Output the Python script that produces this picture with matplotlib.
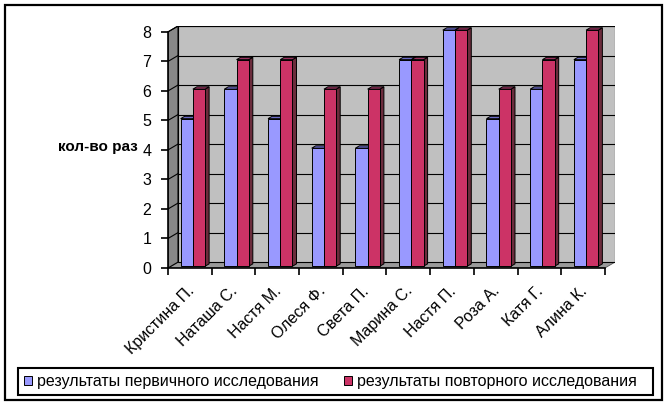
import matplotlib
matplotlib.use('Agg')
import matplotlib.pyplot as plt
from matplotlib.patches import Polygon, Rectangle

# data
names = ['Кристина П.', 'Наташа С.', 'Настя М.', 'Олеся Ф.', 'Света П.',
         'Марина С.', 'Настя П.', 'Роза А.', 'Катя Г.', 'Алина К.']
first = [5, 6, 5, 4, 4, 7, 8, 5, 6, 7]
second = [6, 7, 7, 6, 6, 7, 8, 6, 7, 8]
series_labels = ['результаты первичного исследования',
                 'результаты повторного исследования']
y_ticks = [0, 1, 2, 3, 4, 5, 6, 7, 8]
y_title = 'кол-во раз'

plt.rcParams['font.family'] = ['Liberation Sans', 'DejaVu Sans']

fig = plt.figure(figsize=(6.67, 4.05), dpi=100)
ax = fig.add_axes([168 / 667, 137 / 405, 447 / 667, 242 / 405])

n = len(names)
top = max(y_ticks)
dx, dy = 0.23, 0.2      # depth of the 3d box in data units
ax.set_xlim(0, n + dx)
ax.set_ylim(0, top + dy)
ax.set_facecolor('none')

# walls and floor
ax.add_patch(Polygon([(0, 0), (n, 0), (n + dx, dy), (dx, dy)], closed=True,
                     facecolor='#9a9a9a', edgecolor='#555555', lw=0.6, zorder=1))
ax.add_patch(Polygon([(0, 0), (dx, dy), (dx, top + dy), (0, top)], closed=True,
                     facecolor='#888888', edgecolor='black', lw=0.8, zorder=1))
ax.add_patch(Rectangle((dx, dy), n, top, facecolor='#c0c0c0',
                       edgecolor='black', lw=0.8, zorder=1))
for k in y_ticks[1:]:
    ax.plot([dx, n + dx], [k + dy, k + dy], color='black', lw=0.8, zorder=2)
    ax.plot([0, dx], [k, k + dy], color='black', lw=0.8, zorder=2)

# 3d bars
w = 0.28      # bar width
f = 0.3       # depth position of bar front
bd = 0.4      # bar depth as part of box depth
styles = [('#9999ff', '#6a6ac4', '#5858a8'),
          ('#cc3366', '#99335f', '#6b2c3c')]
for s, vals in enumerate([first, second]):
    face, topc, sidec = styles[s]
    xs = [i + 0.5 - w + s * w + f * dx for i in range(n)]
    z = 3 + s
    ax.bar(xs, vals, width=w, bottom=f * dy, align='edge', color=face,
           edgecolor='black', linewidth=0.7, zorder=z + 0.1, label=series_labels[s])
    for x0, v in zip(xs, vals):
        y1 = v + f * dy
        ox, oy = bd * dx, bd * dy
        ax.add_patch(Polygon([(x0 + w, f * dy), (x0 + w + ox, f * dy + oy),
                              (x0 + w + ox, y1 + oy), (x0 + w, y1)], closed=True,
                             facecolor=sidec, edgecolor='black', lw=0.7, zorder=z))
        ax.add_patch(Polygon([(x0, y1), (x0 + w, y1), (x0 + w + ox, y1 + oy),
                              (x0 + ox, y1 + oy)], closed=True,
                             facecolor=topc, edgecolor='black', lw=0.7, zorder=z + 0.2))

# axes
for side in ['top', 'right']:
    ax.spines[side].set_visible(False)
ax.spines['left'].set_bounds(0, top)
ax.spines['bottom'].set_bounds(0, n)
ax.spines['left'].set_linewidth(1.2)
ax.spines['bottom'].set_linewidth(1.2)
ax.spines['left'].set_zorder(6)
ax.spines['bottom'].set_zorder(6)

ax.set_yticks(y_ticks)
ax.tick_params(axis='y', direction='out', length=5, width=1.2, pad=7, labelsize=11.5)
ax.set_xticks(range(n + 1))
ax.set_xticklabels([])
ax.tick_params(axis='x', which='major', direction='out', length=5, width=1.2)
ax.set_xticks([i + 0.42 for i in range(n)], minor=True)
ax.set_xticklabels(names, minor=True, rotation=45, ha='right',
                   rotation_mode='anchor', fontsize=11.5)
ax.tick_params(axis='x', which='minor', length=0, pad=11)

fig.text(138 / 667, 1 - 147 / 405, y_title, ha='right', va='center',
         fontsize=11, fontweight='bold')

# legend box drawn separately so it can span the full width
fig.patches.append(Rectangle((18 / 667, 10 / 405), 635 / 667, 27 / 405,
                             transform=fig.transFigure, fill=False,
                             edgecolor='black', linewidth=1.5))
ax.legend(loc='center left', bbox_to_anchor=(24 / 667, 23.5 / 405),
          bbox_transform=fig.transFigure, ncol=2, frameon=False,
          handlelength=0.5, handleheight=0.5, handletextpad=0.3,
          columnspacing=1.6, borderaxespad=0, borderpad=0, fontsize=11.5)

fig.patches.append(Rectangle((5 / 667, 5 / 405), 657 / 667, 395 / 405,
                             transform=fig.transFigure, fill=False,
                             edgecolor='black', linewidth=1.6))

fig.savefig('out.png', dpi=100)
